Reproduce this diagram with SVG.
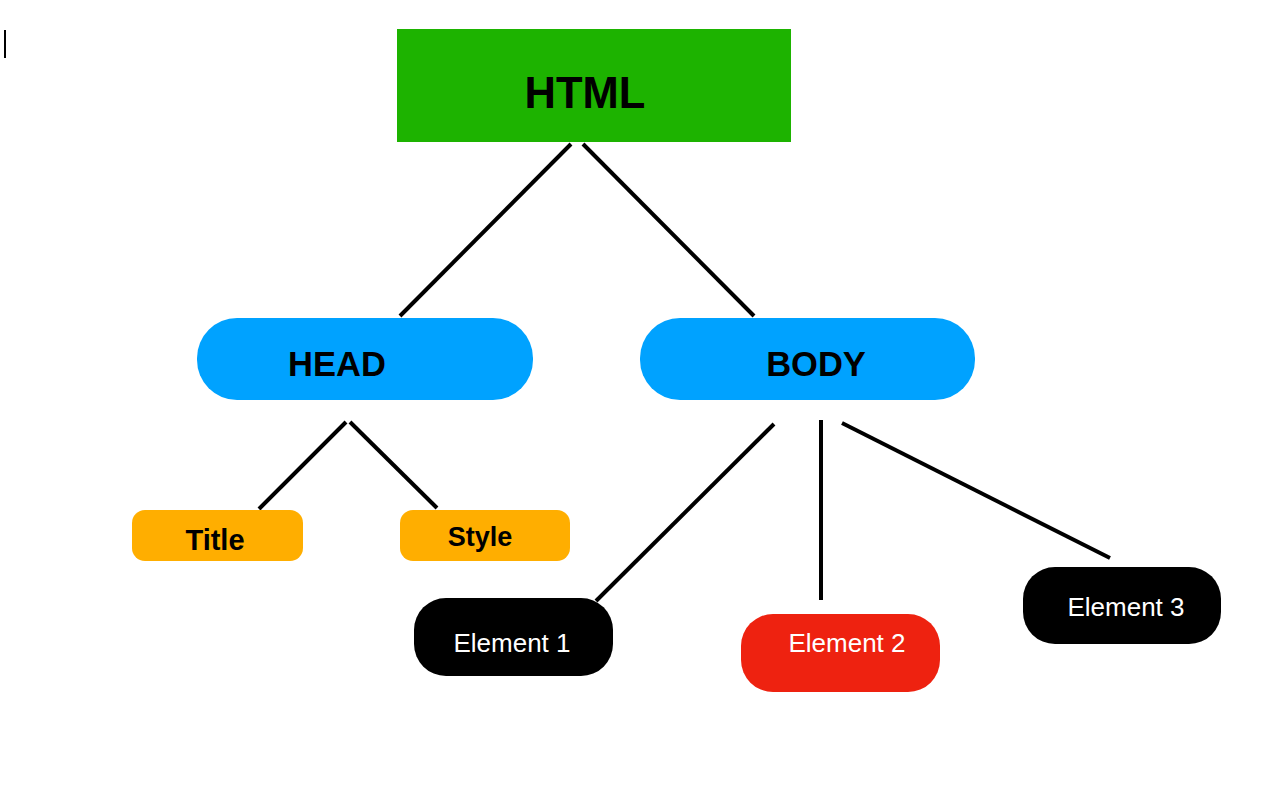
<svg xmlns="http://www.w3.org/2000/svg" width="1264" height="794" viewBox="0 0 1264 794">
<style>
.lbl{font-family:"Liberation Sans",Arial,sans-serif;text-anchor:middle}
.b{font-weight:bold;fill:#000}
.w{fill:#fff}
.conn line{stroke:#000;stroke-width:4}
</style>
<rect width="1264" height="794" fill="#fff"/>
<line x1="5" y1="30" x2="5" y2="58" stroke="#000" stroke-width="2"/>
<g id="connectors" class="conn">
<line x1="571" y1="144" x2="400" y2="316"/>
<line x1="583" y1="144" x2="754" y2="316"/>
<line x1="346" y1="422" x2="259" y2="509"/>
<line x1="350" y1="422" x2="437" y2="508"/>
<line x1="774" y1="424" x2="596" y2="601"/>
<line x1="821" y1="420" x2="821" y2="600"/>
<line x1="842" y1="423" x2="1110" y2="558"/>
</g>
<g id="html">
<rect x="397" y="29" width="394" height="113" fill="#1db300"/>
<text class="lbl b" x="585" y="108" font-size="43.5">HTML</text>
</g>
<g id="head">
<rect x="197" y="318" width="336" height="82" rx="40" fill="#00a2ff"/>
<text class="lbl b" x="337" y="376" font-size="34.5">HEAD</text>
</g>
<g id="body">
<rect x="640" y="318" width="335" height="82" rx="40" fill="#00a2ff"/>
<text class="lbl b" x="816" y="376" font-size="34.5">BODY</text>
</g>
<g id="title">
<rect x="132" y="510" width="171" height="51" rx="13" fill="#ffae00"/>
<text class="lbl b" x="215" y="550" font-size="29">Title</text>
</g>
<g id="style">
<rect x="400" y="510" width="170" height="51" rx="13" fill="#ffae00"/>
<text class="lbl b" x="480" y="546" font-size="27">Style</text>
</g>
<g id="element1">
<rect x="414" y="598" width="199" height="78" rx="32" fill="#000"/>
<text class="lbl w" x="512" y="652" font-size="26">Element 1</text>
</g>
<g id="element2">
<rect x="741" y="614" width="199" height="78" rx="32" fill="#ee2210"/>
<text class="lbl w" x="847" y="652" font-size="26">Element 2</text>
</g>
<g id="element3">
<rect x="1023" y="567" width="198" height="77" rx="32" fill="#000"/>
<text class="lbl w" x="1126" y="616" font-size="26">Element 3</text>
</g>
</svg>
